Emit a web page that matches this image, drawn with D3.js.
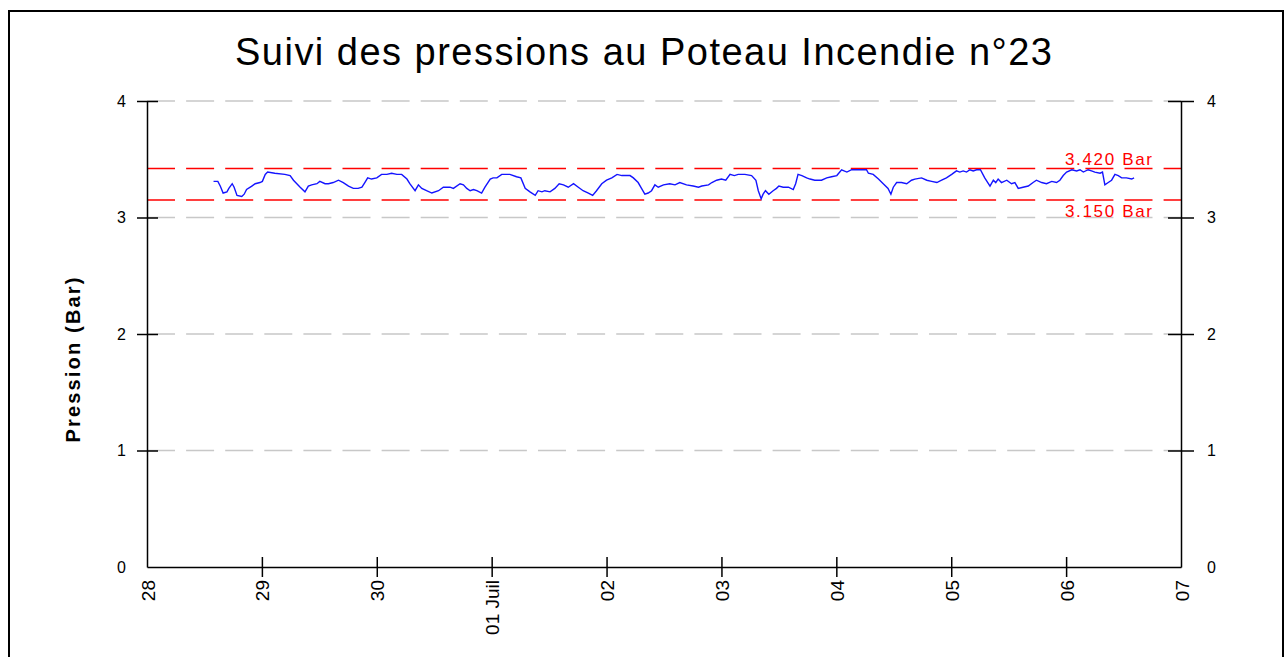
<!DOCTYPE html>
<html>
<head>
<meta charset="utf-8">
<script src="https://cdn.jsdelivr.net/npm/d3@7"></script>
<style>
  body { margin: 0; background: #fff; }
  svg text { font-family: "Liberation Sans", Arial, sans-serif; }
</style>
</head>
<body>
<div id="chart"></div>
<script>
var width = 1287,
    height = 657;

// hours counted from 28 juin 00:00
var startDay = new Date(2010, 5, 28),
    endDay = new Date(2010, 6, 7);
var hours = [13.9,14.8,15.3,15.9,16.7,17.1,17.8,18.2,18.8,19.8,20.3,20.8,21.9,22.6,23.6,24.1,24.7,25.2,26.7,28.8,
  29.9,30.6,32.0,33.0,33.7,34.4,35.5,36.1,37.2,37.9,38.9,40.0,41.0,42.1,43.1,44.1,44.9,45.5,46.1,46.9,
  48.0,49.0,50.1,51.1,52.2,53.2,54.3,54.9,56.0,56.7,57.4,58.4,59.5,60.9,61.9,
  62.3,63.3,64.0,65.4,66.1,66.8,67.5,68.2,68.9,69.9,70.6,71.7,72.3,73.1,74.1,75.8,77.2,78.1,79.0,80.0,
  81.1,81.7,82.5,83.1,84.2,85.2,86.1,87.0,88.0,89.1,90.1,91.1,92.2,93.1,93.9,95.0,96.0,97.1,98.2,99.2,
  100.9,101.6,102.6,103.3,104.0,104.7,105.4,106.1,106.8,107.9,109.2,110.3,111.3,
  112.7,114.1,115.2,115.9,117.3,118.0,119.0,120.0,120.9,121.8,122.7,123.5,124.9,126.3,127.2,127.7,128.3,128.7,129.2,129.9,
  130.8,131.5,132.0,132.9,134.0,135.0,135.5,136.0,136.8,137.8,138.5,139.5,140.9,142.0,143.0,144.1,145.1,146.2,147.2,148.2,
  150.3,150.7,151.7,152.8,153.8,154.8,155.4,155.9,156.6,157.6,158.7,159.7,160.4,
  161.8,162.9,163.9,165.0,166.0,167.0,168.1,169.1,169.8,170.5,171.2,171.9,172.6,173.3,174.1,175.0,176.1,176.8,177.3,177.8,
  178.5,179.6,180.6,181.3,182.0,183.0,184.1,185.1,185.8,186.9,187.9,189.0,190.0,190.7,191.4,192.1,193.2,194.2,194.9,195.6,
  196.6,197.3,198.0,199.1,199.6,200.1,200.8,201.5,202.2,202.9,203.6,204.6,205.7,206.2];
var pressure = [3.31,3.31,3.27,3.21,3.22,3.25,3.29,3.26,3.19,3.18,3.20,3.24,3.27,3.29,3.30,3.31,3.37,3.39,3.38,3.37,
  3.36,3.32,3.26,3.22,3.27,3.28,3.29,3.31,3.29,3.29,3.30,3.32,3.30,3.27,3.25,3.25,3.26,3.30,3.34,3.33,
  3.34,3.37,3.37,3.38,3.37,3.37,3.33,3.29,3.23,3.28,3.25,3.23,3.21,3.23,3.26,
  3.26,3.26,3.25,3.29,3.28,3.25,3.23,3.24,3.23,3.21,3.26,3.33,3.34,3.34,3.37,3.37,3.35,3.34,3.25,3.22,
  3.19,3.23,3.22,3.23,3.22,3.25,3.29,3.28,3.26,3.29,3.26,3.23,3.21,3.19,3.23,3.29,3.32,3.34,3.37,3.36,
  3.36,3.34,3.30,3.25,3.20,3.21,3.23,3.28,3.26,3.28,3.29,3.28,3.30,
  3.28,3.27,3.26,3.27,3.28,3.30,3.32,3.33,3.32,3.37,3.36,3.37,3.37,3.36,3.32,3.23,3.16,3.20,3.23,3.20,
  3.23,3.25,3.27,3.26,3.26,3.24,3.29,3.37,3.36,3.34,3.33,3.32,3.32,3.34,3.35,3.36,3.41,3.39,3.41,3.41,
  3.41,3.38,3.37,3.33,3.29,3.25,3.20,3.26,3.30,3.30,3.29,3.32,3.33,
  3.34,3.32,3.31,3.30,3.32,3.34,3.37,3.40,3.39,3.40,3.39,3.41,3.40,3.41,3.41,3.34,3.27,3.32,3.30,3.33,
  3.30,3.32,3.29,3.30,3.25,3.26,3.27,3.30,3.32,3.30,3.29,3.31,3.30,3.32,3.36,3.39,3.41,3.40,3.41,3.39,
  3.41,3.40,3.39,3.38,3.39,3.28,3.30,3.32,3.37,3.36,3.34,3.34,3.33,3.34];

var yTicks = [0, 1, 2, 3, 4];
var seuils = [3.42, 3.15];
var seuilLabels = ["3.420 Bar", "3.150 Bar"];
var frMonths = ["Janv", "F\u00e9vr", "Mars", "Avr", "Mai", "Juin", "Juil", "Ao\u00fbt", "Sept", "Oct", "Nov", "D\u00e9c"];

var data = hours.map(function (h, i) {
  return { date: new Date(startDay.getTime() + h * 3600000), value: pressure[i] };
});

var svg = d3.select("#chart").append("svg")
    .attr("width", width)
    .attr("height", height);

// cadre
svg.append("rect")
    .attr("x", 9).attr("y", 11)
    .attr("width", 1274).attr("height", 670)
    .attr("fill", "none")
    .attr("stroke", "#000")
    .attr("stroke-width", 2);

var x = d3.scaleTime()
    .domain([startDay, endDay])
    .range([147, 1181]);

var y = d3.scaleLinear()
    .domain([0, 4])
    .range([567, 101]);

svg.append("text")
    .attr("x", 643.5)
    .attr("y", 65)
    .attr("text-anchor", "middle")
    .attr("font-size", 38)
    .attr("textLength", 817)
    .attr("lengthAdjust", "spacing")
    .text("Suivi des pressions au Poteau Incendie n\u00b023");

// grille
svg.append("g")
    .selectAll("line")
    .data(yTicks.filter(d => d > 0))
    .enter().append("line")
    .attr("x1", x.range()[0]).attr("x2", x.range()[1])
    .attr("y1", d => y(d)).attr("y2", d => y(d))
    .attr("stroke", "#c8c8c8")
    .attr("stroke-width", 1.5)
    .attr("stroke-dasharray", "28,11.1");

// seuils
svg.append("g")
    .selectAll("line")
    .data(seuils)
    .enter().append("line")
    .attr("x1", x.range()[0]).attr("x2", x.range()[1])
    .attr("y1", d => y(d)).attr("y2", d => y(d))
    .attr("stroke", "#ff0000")
    .attr("stroke-width", 1.5)
    .attr("stroke-dasharray", "28,11.1");

svg.append("g")
    .selectAll("text")
    .data(seuils)
    .enter().append("text")
    .attr("x", 1152)
    .attr("y", (d, i) => i == 0 ? y(d) - 4 : y(d) + 17)
    .attr("text-anchor", "end")
    .attr("font-size", 17)
    .attr("fill", "#ff0000")
    .attr("textLength", 87)
    .attr("lengthAdjust", "spacing")
    .text((d, i) => seuilLabels[i]);

// courbe
var line = d3.line()
    .x(d => x(d.date))
    .y(d => y(d.value));

svg.append("path")
    .datum(data)
    .attr("d", line)
    .attr("fill", "none")
    .attr("stroke", "#1414ff")
    .attr("stroke-width", 1.4);

// axes
var yLeft = svg.append("g")
    .attr("transform", "translate(147,0)")
    .call(d3.axisLeft(y).tickValues(yTicks).tickFormat(d3.format("d")).tickSizeOuter(0).tickPadding(15));
yLeft.selectAll(".tick line").attr("x1", d => d > 0 ? 11 : 0).attr("x2", d => d > 0 ? -10 : 0);

var yRight = svg.append("g")
    .attr("transform", "translate(1181,0)")
    .call(d3.axisRight(y).tickValues(yTicks).tickFormat(d3.format("d")).tickSizeOuter(0).tickPadding(20));
yRight.selectAll(".tick line").attr("x1", d => d > 0 ? -13 : 0).attr("x2", d => d > 0 ? 13 : 0);

var xAxis = svg.append("g")
    .attr("transform", "translate(0,567)")
    .call(d3.axisBottom(x)
      .ticks(d3.timeDay.every(1))
      .tickSizeOuter(0)
      .tickFormat(d => d3.timeFormat("%d")(d) + (d.getDate() == 1 ? " " + frMonths[d.getMonth()] : "")));
xAxis.selectAll(".tick line")
    .attr("y1", (d, i, n) => (i == 0 || i == n.length - 1) ? 0 : -10)
    .attr("y2", (d, i, n) => (i == 0 || i == n.length - 1) ? 0 : 10);
xAxis.selectAll(".tick text")
    .attr("transform", "translate(7,13) rotate(-90)")
    .attr("x", 0).attr("y", 0).attr("dy", 0)
    .attr("text-anchor", "end")
    .attr("font-size", 19);

svg.selectAll(".domain").attr("stroke", "#000").attr("stroke-width", 1.5);
svg.selectAll(".tick line").attr("stroke", "#000").attr("stroke-width", 1.5);
yLeft.selectAll(".tick text").attr("font-size", 16).attr("fill", "#000");
yRight.selectAll(".tick text").attr("font-size", 16).attr("fill", "#000");
xAxis.selectAll(".tick text").attr("fill", "#000");
svg.selectAll(".tick text").attr("font-family", "'Liberation Sans', Arial, sans-serif");

svg.append("text")
    .attr("transform", "translate(80,360) rotate(-90)")
    .attr("text-anchor", "middle")
    .attr("font-size", 20)
    .attr("font-weight", "bold")
    .attr("textLength", 165)
    .attr("lengthAdjust", "spacing")
    .text("Pression  (Bar)");
</script>
</body>
</html>
